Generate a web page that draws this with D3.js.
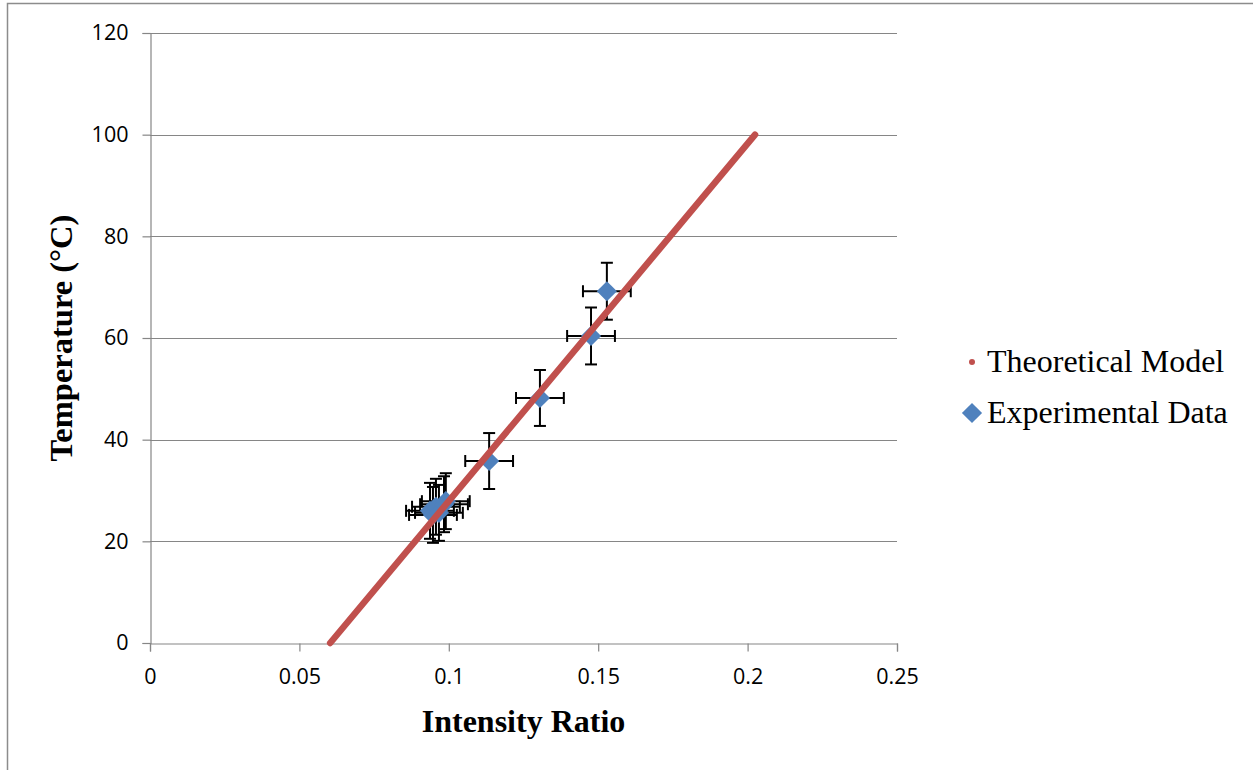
<!DOCTYPE html>
<html>
<head>
<meta charset="utf-8">
<script src="https://cdn.jsdelivr.net/npm/d3@7"></script>
<style>
  html, body { margin: 0; padding: 0; background: #fff; }
  svg { display: block; }
</style>
</head>
<body>
<svg id="chart" width="1253" height="770"></svg>
<script>
// Theoretical model: temperature against intensity ratio (straight line)
const modelRatio = [0.0603, 0.2025];
const modelTemp = [0, 100];

// Measured points with their uncertainties
const expRatio = [0.1529, 0.1476, 0.1305, 0.1135, 0.0937, 0.0947, 0.0957, 0.0967, 0.0984, 0.0990];
const expTemp  = [69.2, 60.4, 48.2, 35.8, 26.0, 25.2, 26.8, 25.6, 27.3, 27.9];
const expRatioErr = [0.008, 0.008, 0.008, 0.008, 0.008, 0.008, 0.008, 0.008, 0.008, 0.008];
const expTempErr  = [5.6, 5.6, 5.5, 5.5, 5.5, 5.5, 5.5, 5.5, 5.5, 5.5];

const xTicks = [0, 0.05, 0.1, 0.15, 0.2, 0.25];
const xTickLabels = ["0", "0.05", "0.1", "0.15", "0.2", "0.25"];
const yTicks = [0, 20, 40, 60, 80, 100, 120];

const seriesNames = ["Theoretical Model", "Experimental Data"];
const xTitle = "Intensity Ratio";
const yTitle = "Temperature (°C)";

const svg = d3.select("#chart");
const plot = { left: 150, right: 897, top: 33, bottom: 643 };

const x = d3.scaleLinear().domain([0, 0.25]).range([plot.left, plot.right]);
const y = d3.scaleLinear().domain([0, 120]).range([plot.bottom, plot.top]);

const gridColor = "#868686";
const red = "#C0504D";
const blue = "#4F81BD";
const tickFont = "'Open Sans', 'Noto Sans', sans-serif";
const serif = "'Liberation Serif', 'Times New Roman', serif";

// outer chart frame
svg.append("rect")
  .attr("x", 7.5).attr("y", 3.5)
  .attr("width", 1300).attr("height", 800)
  .attr("fill", "#fff").attr("stroke", "#8c8c8c").attr("stroke-width", 1.5);

// horizontal gridlines
svg.append("g").selectAll("line")
  .data(yTicks.filter(d => d > 0))
  .join("line")
  .attr("x1", plot.left).attr("x2", plot.right)
  .attr("y1", d => Math.round(y(d)) + 0.5).attr("y2", d => Math.round(y(d)) + 0.5)
  .attr("stroke", gridColor).attr("stroke-width", 1.2);

// y axis
const yAxis = d3.axisLeft(y).tickValues(yTicks).tickSize(8).tickPadding(14).tickFormat(d3.format("d"));
const gy = svg.append("g").attr("transform", `translate(${plot.left + 0.5},0)`).call(yAxis);
gy.attr("font-family", tickFont).attr("font-size", 21.5);
gy.select(".domain").attr("stroke", gridColor).attr("stroke-width", 1.2);
gy.selectAll(".tick line").attr("stroke", gridColor).attr("stroke-width", 1.2);
gy.selectAll(".tick text").attr("fill", "#000");

// x axis
const xAxis = d3.axisBottom(x).tickValues(xTicks).tickSize(8).tickPadding(17)
  .tickFormat((d, i) => xTickLabels[i]);
const gx = svg.append("g").attr("transform", `translate(0,${plot.bottom + 0.5})`).call(xAxis);
gx.attr("font-family", tickFont).attr("font-size", 21.5);
gx.select(".domain").attr("stroke", gridColor).attr("stroke-width", 1.2);
gx.selectAll(".tick line").attr("stroke", gridColor).attr("stroke-width", 1.2);
gx.selectAll(".tick text").attr("fill", "#000");

// axis titles
svg.append("text")
  .attr("x", (plot.left + plot.right) / 2).attr("y", 732)
  .attr("text-anchor", "middle")
  .attr("font-family", serif)
  .attr("font-weight", "bold").attr("font-size", 32)
  .text(xTitle);

svg.append("text")
  .attr("transform", `translate(72,${(plot.top + plot.bottom) / 2}) rotate(-90)`)
  .attr("text-anchor", "middle")
  .attr("font-family", serif)
  .attr("font-weight", "bold").attr("font-size", 32.5)
  .text(yTitle);

// experimental data
const exp = expRatio.map((r, i) => ({ r, t: expTemp[i], er: expRatioErr[i], et: expTempErr[i] }));
const capHalf = 6;
const eb = svg.append("g").attr("stroke", "#000").attr("stroke-width", 2).attr("fill", "none");
exp.forEach(d => {
  const cx = x(d.r), cy = y(d.t);
  const y1 = y(d.t + d.et), y2 = y(d.t - d.et);
  const x1 = x(d.r - d.er), x2 = x(d.r + d.er);
  eb.append("line").attr("x1", cx).attr("x2", cx).attr("y1", y1).attr("y2", y2);
  eb.append("line").attr("x1", cx - capHalf).attr("x2", cx + capHalf).attr("y1", y1).attr("y2", y1);
  eb.append("line").attr("x1", cx - capHalf).attr("x2", cx + capHalf).attr("y1", y2).attr("y2", y2);
  eb.append("line").attr("x1", x1).attr("x2", x2).attr("y1", cy).attr("y2", cy);
  eb.append("line").attr("x1", x1).attr("x2", x1).attr("y1", cy - capHalf).attr("y2", cy + capHalf);
  eb.append("line").attr("x1", x2).attr("x2", x2).attr("y1", cy - capHalf).attr("y2", cy + capHalf);
});

const diamond = d3.symbol().type(d3.symbolDiamond2).size(260);
svg.append("g").selectAll("path")
  .data(exp)
  .join("path")
  .attr("d", diamond)
  .attr("transform", d => `translate(${x(d.r)},${y(d.t)})`)
  .attr("fill", blue);

// theoretical model line
const model = modelRatio.map((r, i) => ({ r, t: modelTemp[i] }));
svg.append("path")
  .datum(model)
  .attr("d", d3.line().x(d => x(d.r)).y(d => y(d.t)))
  .attr("fill", "none").attr("stroke", red)
  .attr("stroke-width", 6.5).attr("stroke-linecap", "round");

// legend
const legend = svg.append("g").attr("font-family", serif).attr("font-size", 32);
legend.append("circle").attr("cx", 972).attr("cy", 362).attr("r", 3).attr("fill", red);
legend.append("text").attr("x", 987).attr("y", 372).text(seriesNames[0]);
legend.append("path").attr("d", diamond).attr("transform", "translate(972,413)").attr("fill", blue);
legend.append("text").attr("x", 987).attr("y", 423).text(seriesNames[1]);
</script>
</body>
</html>
